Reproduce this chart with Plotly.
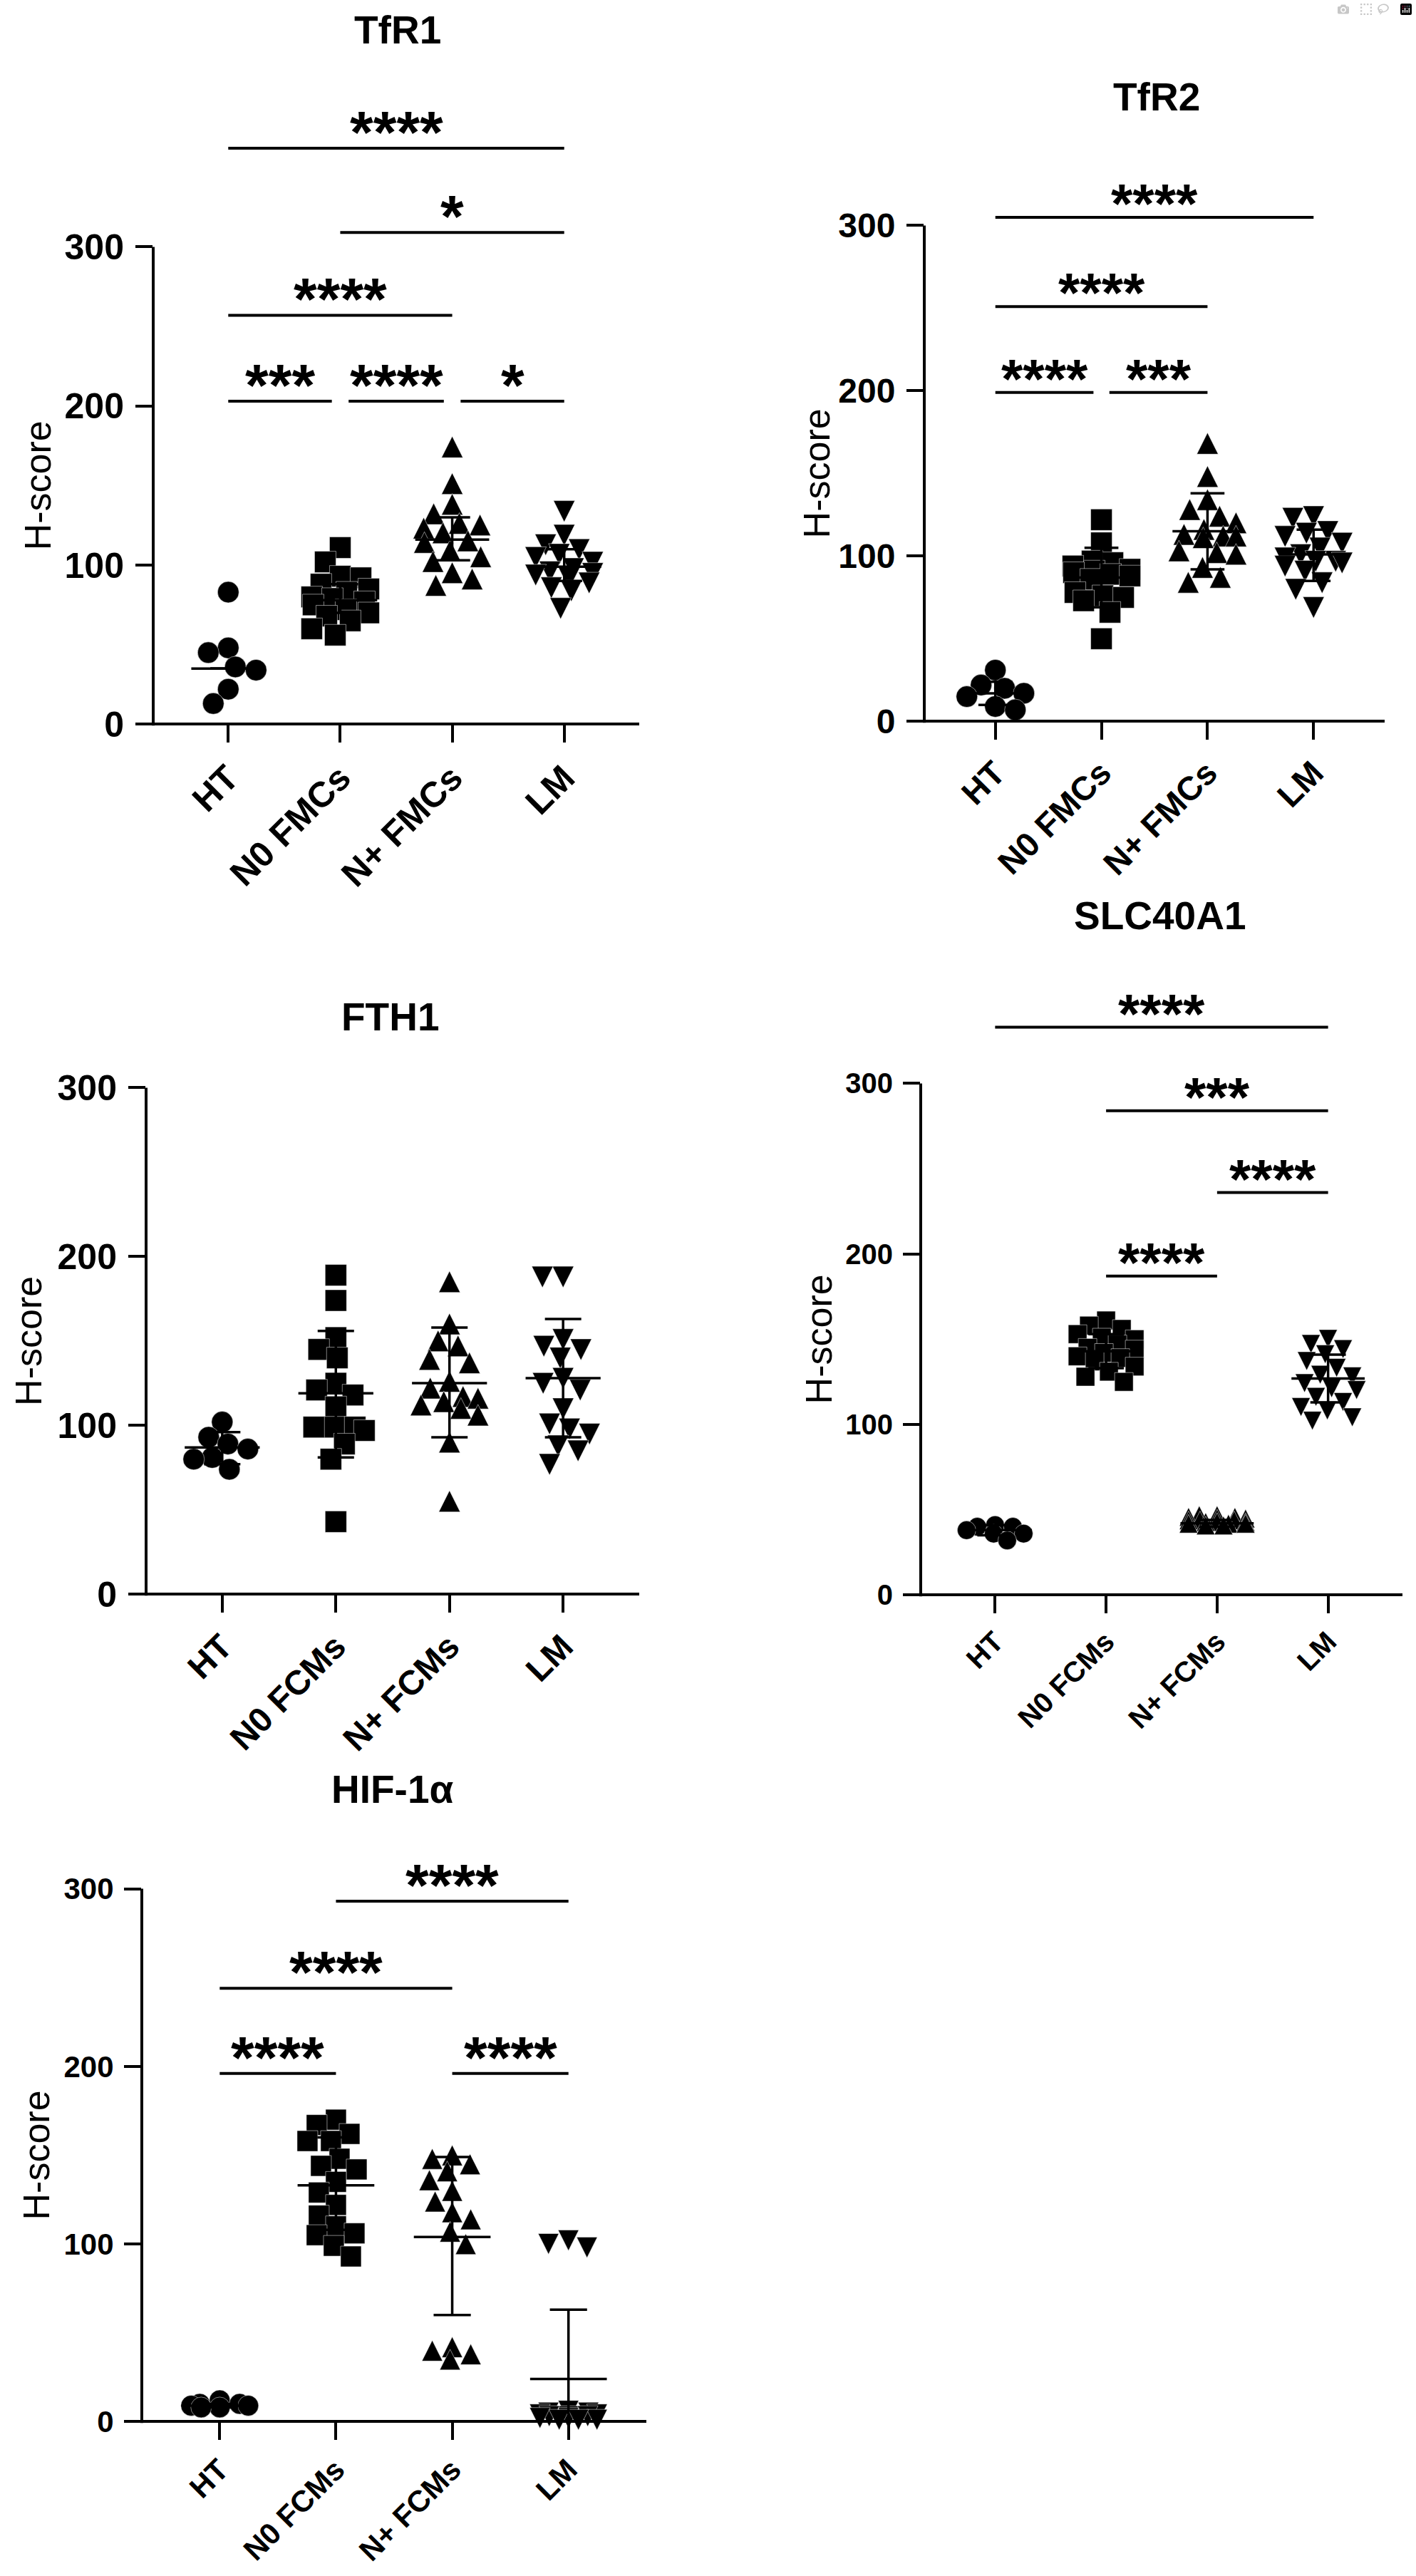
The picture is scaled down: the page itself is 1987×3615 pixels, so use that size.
import numpy as np
import plotly.graph_objects as go

# ---- data (H-score) ----
groups_fmc = ["HT", "N0 FMCs", "N+ FMCs", "LM"]
groups_fcm = ["HT", "N0 FCMs", "N+ FCMs", "LM"]

# TfR1
tfr1_ht = [83, 48, 45, 36, 34, 22, 13]
tfr1_n0 = [111, 102, 93, 92, 88, 85, 83, 80, 79, 77, 75, 72, 70, 68, 65, 60, 56]
tfr1_np = [172, 149, 136, 130, 124, 123, 121, 118, 113, 112, 107, 103, 100, 93, 89, 85]
tfr1_lm = [136, 121, 115, 112, 109, 107, 104, 100, 98, 97, 96, 94, 91, 88, 86, 75]
tfr1_mid = [35, 78, 116, 99]
tfr1_lo = [35, 70, 103, 90]
tfr1_hi = [35, 88, 130, 110]
tfr1_sig = [(0, 3, 362, "****"), (1, 3, 309, "*"), (0, 2, 257, "****"),
            (0, 1, 203, "***"), (1, 2, 203, "****"), (2, 3, 203, "*")]

# TfR2
tfr2_ht = [31, 22, 20, 17, 15, 9, 7]
tfr2_n0 = [122, 108, 97, 96, 94, 92, 91, 90, 89, 88, 86, 78, 76, 75, 73, 66, 50]
tfr2_np = [166, 146, 132, 126, 122, 118, 114, 111, 110, 110, 109, 101, 100, 99, 91, 85, 82]
tfr2_lm = [126, 125, 117, 116, 114, 110, 107, 103, 101, 99, 99, 98, 96, 93, 86, 82, 71]
tfr2_mid = [17, 87, 115, 101]
tfr2_lo = [10, 69, 92, 85]
tfr2_hi = [24, 105, 138, 116]
tfr2_sig = [(0, 3, 305, "****"), (0, 2, 251, "****"),
            (0, 1, 199, "****"), (1, 2, 199, "***")]

# FTH1
fth1_ht = [102, 93, 89, 86, 81, 80, 74]
fth1_n0 = [189, 174, 152, 145, 140, 125, 121, 118, 111, 99, 99, 99, 97, 89, 80, 43]
fth1_np = [183, 158, 148, 145, 137, 135, 124, 120, 115, 114, 112, 110, 108, 104, 88, 53]
fth1_lm = [190, 190, 153, 149, 147, 142, 130, 127, 123, 112, 103, 100, 97, 90, 87, 79]
fth1_mid = [87, 119, 125, 128]
fth1_lo = [77, 81, 93, 93]
fth1_hi = [96, 156, 158, 163]
fth1_sig = []

# SLC40A1
slc_ht = [41, 40, 40, 38, 36, 36, 32]
slc_n0 = [161, 158, 156, 153, 151, 150, 147, 145, 144, 142, 140, 139, 137, 134, 131, 128, 125]
slc_np = [45, 45, 44, 44, 43, 43, 42, 42, 42, 41, 41, 41, 40, 40, 40, 39, 39]
slc_lm = [152, 149, 146, 143, 139, 135, 131, 130, 126, 123, 122, 118, 115, 112, 110, 106, 104]
slc_mid = [38, 143, 42, 127]
slc_lo = [35, 133, 40, 113]
slc_hi = [41, 153, 44, 141]
slc_sig = [(0, 3, 333, "****"), (1, 3, 284, "***"),
           (2, 3, 236, "****"), (1, 2, 187, "****")]

# HIF-1α
hif_ht = [12, 10, 10, 9, 9, 8, 8]
hif_n0 = [170, 167, 162, 158, 158, 148, 144, 142, 135, 129, 122, 116, 110, 106, 105, 99, 93]
hif_np = [148, 146, 143, 139, 134, 128, 122, 116, 112, 105, 98, 40, 38, 36, 33]
hif_lm = [104, 102, 100, 8, 7, 7, 6, 6, 5, 5, 5, 4, 4, 3, 3, 3]
hif_mid = [9, 133, 104, 24]
hif_lo = [8, 108, 60, 0]
hif_hi = [10, 160, 149, 63]
hif_sig = [(1, 3, 293, "****"), (0, 2, 244, "****"),
           (0, 1, 196, "****"), (2, 3, 196, "****")]

# ---- page geometry (pixels of the 1987 x 3615 page) ----
W, H = 1987, 3615
FONT = "Liberation Sans, Arial, sans-serif"
XR = [-0.67, 3.67]
YLOW = -12  # a little room under 0 so markers near 0 stay visible
SYMBOLS = ["circle", "square", "arrow-up", "arrow-down"]

panels = [
    dict(title="TfR1", cats=groups_fmc, data=[tfr1_ht, tfr1_n0, tfr1_np, tfr1_lm],
         mid=tfr1_mid, lo=tfr1_lo, hi=tfr1_hi, sig=tfr1_sig,
         left=215, right=897, y0=1014, y300=343, ymax=400,
         tx=558, ty=38, hx=53, msize=30, tick=50, cat=50, star=84),
    dict(title="TfR2", cats=groups_fmc, data=[tfr2_ht, tfr2_n0, tfr2_np, tfr2_lm],
         mid=tfr2_mid, lo=tfr2_lo, hi=tfr2_hi, sig=tfr2_sig,
         left=1297, right=1943, y0=1010, y300=313, ymax=340,
         tx=1623, ty=132, hx=1146, msize=30, tick=48, cat=47, star=78),
    dict(title="FTH1", cats=groups_fcm, data=[fth1_ht, fth1_n0, fth1_np, fth1_lm],
         mid=fth1_mid, lo=fth1_lo, hi=fth1_hi, sig=fth1_sig,
         left=205, right=897, y0=2237, y300=1525, ymax=310,
         tx=548, ty=1425, hx=40, msize=30, tick=50, cat=48, star=84),
    dict(title="SLC40A1", cats=groups_fcm, data=[slc_ht, slc_n0, slc_np, slc_lm],
         mid=slc_mid, lo=slc_lo, hi=slc_hi, sig=slc_sig,
         left=1292, right=1968, y0=2238, y300=1519, ymax=360,
         tx=1627, ty=1283, hx=1149, msize=26, tick=40, cat=40, star=78),
    dict(title="HIF-1α", cats=groups_fcm, data=[hif_ht, hif_n0, hif_np, hif_lm],
         mid=hif_mid, lo=hif_lo, hi=hif_hi, sig=hif_sig,
         left=199, right=907, y0=3400, y300=2651, ymax=320,
         tx=551, ty=2511, hx=51, msize=29, tick=42, cat=42, star=84),
]


def swarm_offsets(values, ppu, diam, max_px=40):
    # simple beeswarm in pixel space, returns x offsets in pixels
    vals = np.asarray(values, float)
    cands = np.arange(-max_px, max_px + 0.5, 1.0)
    cands = cands[np.argsort(np.abs(cands) + (cands > 0) * 0.01)]
    px, py = [], []
    out = np.zeros(len(vals))
    for i in np.argsort(-vals, kind="stable"):
        y = vals[i] * ppu
        k = 0
        if px:
            d = np.hypot(cands[:, None] - np.array(px)[None, :], y - np.array(py)[None, :])
            pen = np.clip(diam - d, 0, None).sum(axis=1)
            ok = np.where(pen <= 0)[0]
            k = ok[0] if len(ok) else int(np.argmin(pen))
        out[i] = cands[k]
        px.append(cands[k])
        py.append(y)
    return out


fig = go.Figure()
layout = {}
shapes = []
annotations = []

for n, p in enumerate(panels, start=1):
    xname = "x" if n == 1 else f"x{n}"
    yname = "y" if n == 1 else f"y{n}"
    ppu = (p["y0"] - p["y300"]) / 300.0
    top = p["y0"] - p["ymax"] * ppu
    bottom = p["y0"] - YLOW * ppu
    spacing = (p["right"] - p["left"]) / (XR[1] - XR[0])
    ms = p["msize"]

    layout["xaxis" if n == 1 else f"xaxis{n}"] = dict(
        domain=[p["left"] / W, p["right"] / W], range=XR,
        anchor="free", position=1 - p["y0"] / H,
        tickvals=[0, 1, 2, 3], ticktext=p["cats"], tickangle=-45,
        ticks="outside", ticklen=24, tickwidth=4, tickcolor="black",
        showline=True, linewidth=4, linecolor="black",
        showgrid=False, zeroline=False, fixedrange=True,
        tickfont=dict(family=FONT, size=p["cat"], color="black", weight="bold"),
    )
    layout["yaxis" if n == 1 else f"yaxis{n}"] = dict(
        domain=[1 - bottom / H, 1 - top / H], range=[YLOW, p["ymax"]], anchor=xname,
        tickvals=[0, 100, 200, 300], ticks="outside", ticklen=24, tickwidth=4,
        tickcolor="black", showline=False, showgrid=False, zeroline=False,
        fixedrange=True, ticklabelstandoff=6,
        tickfont=dict(family=FONT, size=p["tick"], color="black", weight="bold"),
    )

    # y axis line only from 0 up to 300
    shapes.append(dict(type="line", xref="paper", yref=yname,
                       x0=p["left"] / W, x1=p["left"] / W, y0=-2.0 / ppu, y1=300,
                       line=dict(color="black", width=4)))

    # points
    for g, vals in enumerate(p["data"]):
        off = swarm_offsets(vals, ppu, ms * 0.95) / spacing
        yv = np.asarray(vals, float)
        sym = SYMBOLS[g]
        if sym == "arrow-up":
            yplot = yv + (2.0 / 3.0) * ms / ppu
        elif sym == "arrow-down":
            yplot = yv - (2.0 / 3.0) * ms / ppu
        else:
            yplot = yv
        fig.add_trace(go.Scatter(
            x=g + off, y=yplot, mode="markers", xaxis=xname, yaxis=yname,
            cliponaxis=False, showlegend=False, hoverinfo="skip",
            marker=dict(symbol=sym, size=ms, color="black",
                        line=dict(color="white", width=0.5)),
        ))

    # mean / error bars
    ex, ey = [], []
    for g in range(4):
        m, lo, hi = p["mid"][g], p["lo"][g], p["hi"][g]
        ex += [g - 0.33, g + 0.33, None, g, g, None,
               g - 0.16, g + 0.16, None, g - 0.16, g + 0.16, None]
        ey += [m, m, None, lo, hi, None, lo, lo, None, hi, hi, None]
    fig.add_trace(go.Scatter(
        x=ex, y=ey, mode="lines", xaxis=xname, yaxis=yname, showlegend=False,
        hoverinfo="skip", line=dict(color="black", width=3.5),
    ))

    # significance brackets
    for (i, j, lev, txt) in p["sig"]:
        x0, x1 = float(i), float(j)
        for (a, b, l2, _) in p["sig"]:
            if l2 == lev and (a, b) != (i, j):
                if b == i:
                    x0 += 0.075
                if a == j:
                    x1 -= 0.075
        shapes.append(dict(type="line", xref=xname, yref=yname,
                           x0=x0, x1=x1, y0=lev, y1=lev,
                           line=dict(color="black", width=4)))
        annotations.append(dict(
            x=(x0 + x1) / 2, y=lev, xref=xname, yref=yname, text=txt,
            showarrow=False, xanchor="center", yanchor="bottom", yshift=-27,
            font=dict(family=FONT, size=p["star"], color="black", weight="bold"),
        ))

    # panel title
    annotations.append(dict(
        x=p["tx"] / W, y=1 - p["ty"] / H, xref="paper", yref="paper",
        text=p["title"], showarrow=False, xanchor="center", yanchor="middle",
        font=dict(family=FONT, size=55, color="black", weight="bold"),
    ))
    # y axis title
    annotations.append(dict(
        x=p["hx"] / W, y=1 - (p["y0"] + p["y300"]) / 2 / H, xref="paper", yref="paper",
        text="H-score", textangle=-90, showarrow=False,
        xanchor="center", yanchor="middle",
        font=dict(family=FONT, size=52, color="black"),
    ))

fig.update_layout(
    width=W, height=H, margin=dict(l=0, r=0, t=0, b=0),
    paper_bgcolor="white", plot_bgcolor="white",
    shapes=shapes, annotations=annotations, showlegend=False,
    **layout,
)

fig.write_html("out.html", post_script="document.body.style.margin='0';")
